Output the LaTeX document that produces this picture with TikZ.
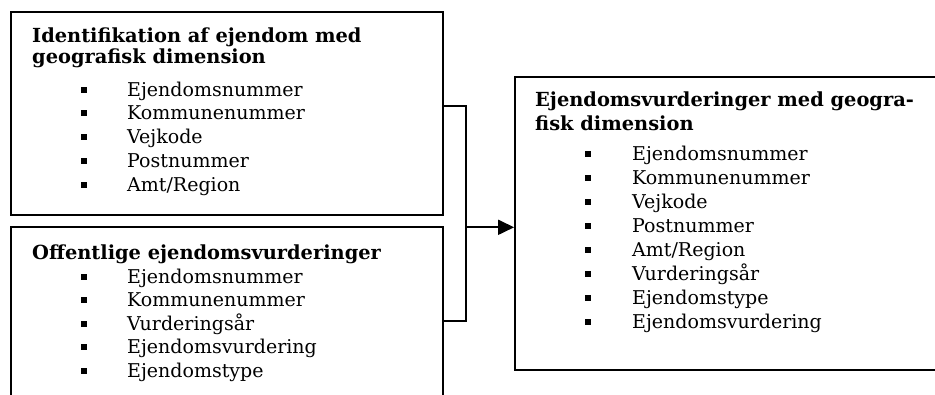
\documentclass[tikz,border=0pt]{standalone}
\usepackage{fontspec}
\setmainfont{DejaVu Serif}
\usetikzlibrary{arrows.meta}
\tikzset{
  box/.style={draw, line width=1.8pt, rectangle, inner sep=0pt},
  ttl/.style={anchor=base west, inner sep=0pt, font=\fontsize{19.4}{23}\selectfont\bfseries},
  itm/.style={anchor=base west, inner sep=0pt, font=\fontsize{19}{23}\selectfont},
  bul/.style={fill=black, rectangle, inner sep=0pt, minimum size=6pt},
  conn/.style={line width=1.8pt},
}
\begin{document}
\begin{tikzpicture}[x=1pt,y=-1pt]
\path[use as bounding box, clip] (0,0) rectangle (935,394);
% boxes
\node[box, minimum width=432pt, minimum height=203pt] (b1) at (227,113.5) {};
\node[box, minimum width=432pt, minimum height=190pt] (b2) at (227,322) {};
\node[box, minimum width=430pt, minimum height=293.3pt] (b3) at (730,223.3) {};
% box 1 text
\node[ttl] (t1a) at (32,42) {Identifikation af ejendom med};
\node[ttl] (t1b) at (32,63) {geografisk dimension};
\foreach \y/\t [count=\i] in {96/Ejendomsnummer,119.75/Kommunenummer,143.5/Vejkode,167.25/Postnummer,191/{Amt/Region}}{
  \node[bul] (b1u\i) at (84,\y-6.5) {};
  \node[itm] (b1i\i) at (127,\y) {\t};
}
% box 2 text
\node[ttl] (t2a) at (32,259) {Offentlige ejendomsvurderinger};
\foreach \y/\t [count=\i] in {283/Ejendomsnummer,306.5/Kommunenummer,330/Vurderingsår,353.5/Ejendomsvurdering,377/Ejendomstype}{
  \node[bul] (b2u\i) at (84,\y-6.5) {};
  \node[itm] (b2i\i) at (127,\y) {\t};
}
% box 3 text
\node[ttl] (t3a) at (535,106) {Ejendomsvurderinger med geogra-};
\node[ttl] (t3b) at (535,130) {fisk dimension};
\foreach \y/\t [count=\i] in {160/Ejendomsnummer,184/Kommunenummer,208/Vejkode,232/Postnummer,256/{Amt/Region},280/Vurderingsår,304/Ejendomstype,328/Ejendomsvurdering}{
  \node[bul] (b3u\i) at (588,\y-6.5) {};
  \node[itm] (b3i\i) at (632,\y) {\t};
}
% connectors
\coordinate (ju) at (466,106);
\coordinate (jd) at (466,321);
\coordinate (jm) at (466,227.3);
\draw[conn] (b1.east |- ju) -- (ju) -- (jd) -- (b2.east |- jd);
\draw[conn, -{Triangle[length=16pt,width=15pt]}] (jm) -- (b3.west |- jm);
\end{tikzpicture}
\end{document}
